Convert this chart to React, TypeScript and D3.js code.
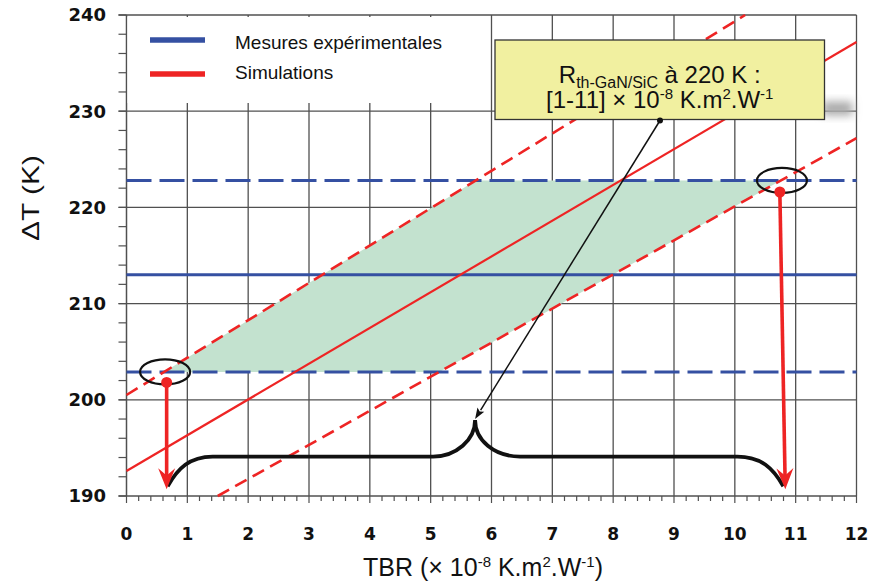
import React from "react";
import * as d3 from "d3";

// ---- data ----
const xTicks = [0, 1, 2, 3, 4, 5, 6, 7, 8, 9, 10, 11, 12];
const yTicks = [190, 200, 210, 220, 230, 240];
const xMinorStep = 0.2;
const yMinorStep = 2;

const measuredMean = 213;
const measuredLow = 202.9;
const measuredHigh = 222.8;

// simulation lines: [TBR, ΔT] end points
const simCentral: [number, number][] = [[0, 192.6], [12, 237.2]];
const simUpper: [number, number][] = [[0, 200.5], [10.17, 240]];
const simLower: [number, number][] = [[1.5, 190], [12, 227.2]];

// annotation values (TBR range read on the chart)
const rangeDotsX = [0.66, 10.74];
const rangeDotsY = [201.8, 221.6];
const arrowTipsX = [0.66, 10.83];
const arrowTipY = 190.7;
const braceY = 194.1;
const braceCuspX = 5.73;
const braceCuspY = 197.9;

const legendItems = [
  { label: "Mesures expérimentales", color: "#3550a2" },
  { label: "Simulations", color: "#ee2424" },
];

const BLUE = "#3550a2";
const RED = "#ee2424";
const GRID = "#505050";

const W = 872, H = 585;
const x = d3.scaleLinear().domain([0, 12]).range([126.5, 856.5]);
const y = d3.scaleLinear().domain([190, 240]).range([496, 15]);

function lineAt(pts: [number, number][]) {
  const [[x0, y0], [x1, y1]] = pts;
  const m = (y1 - y0) / (x1 - x0);
  return { m, b: y0 - m * x0 };
}
function xFor(pts: [number, number][], v: number) {
  const { m, b } = lineAt(pts);
  return (v - b) / m;
}

function arrowHead(sx: number, sy: number, tx: number, ty: number, L: number, Wd: number, notch = 0.65) {
  const dx = tx - sx, dy = ty - sy;
  const len = Math.hypot(dx, dy);
  const ux = dx / len, uy = dy / len;
  const px = -uy, py = ux;
  const bx = tx - ux * L, by = ty - uy * L;
  const nx = tx - ux * L * notch, ny = ty - uy * L * notch;
  return `M${tx},${ty} L${bx + px * Wd / 2},${by + py * Wd / 2} L${nx},${ny} L${bx - px * Wd / 2},${by - py * Wd / 2} Z`;
}

export default function App() {
  const line = d3.line<[number, number]>().x(d => x(d[0])).y(d => y(d[1]));
  const xMinor = d3.range(0, 12 + 1e-9, xMinorStep);
  const yMinor = d3.range(190, 240 + 1e-9, yMinorStep);

  // green zone between measured limits and simulation envelope
  const zone: [number, number][] = [
    [xFor(simUpper, measuredLow), measuredLow],
    [xFor(simUpper, measuredHigh), measuredHigh],
    [xFor(simLower, measuredHigh), measuredHigh],
    [xFor(simLower, measuredLow), measuredLow],
  ];
  const ellL = [xFor(simUpper, measuredLow), measuredLow];
  const ellR = [xFor(simLower, measuredHigh), measuredHigh];

  const by = y(braceY);
  const lx = x(arrowTipsX[0]) + 1, rx = x(arrowTipsX[1]) - 2;
  const tipY = y(arrowTipY) - 3;
  const cx = x(braceCuspX), cy = y(braceCuspY);
  const brace = `M${lx},${tipY} C${lx + 10},${by + 12} ${lx + 22},${by} ${lx + 45},${by}
    L${cx - 42},${by} C${cx - 19},${by} ${cx},${cy + 20} ${cx},${cy}
    C${cx},${cy + 20} ${cx + 19},${by} ${cx + 45},${by}
    L${rx - 46},${by} C${rx - 22},${by} ${rx - 10},${by + 12} ${rx},${tipY}`;

  const box = { x0: 495, y0: 40, x1: 824.5, y1: 119.5 };
  const ptrStart = [660, 120.5];
  const ptrEnd = [cx, cy - 1];

  const tickFont = "DejaVu Sans";
  const textFont = "Liberation Sans, Arial, sans-serif";

  return (
    <svg width={W} height={H} style={{ position: "absolute", left: 0, top: 0 }}>
      <defs>
        <filter id="blur" x="-50%" y="-50%" width="200%" height="200%">
          <feGaussianBlur stdDeviation="4" />
        </filter>
      </defs>
      <rect width={W} height={H} fill="#fff" />
      {/* grid */}
      {xTicks.slice(1).map(t => (
        <line key={"gx" + t} x1={x(t)} x2={x(t)} y1={y(240)} y2={y(190)} stroke={GRID} strokeWidth={1.3} />
      ))}
      {yTicks.map(t => (
        <line key={"gy" + t} x1={x(0) - 8} x2={x(12)} y1={y(t)} y2={y(t)} stroke={GRID} strokeWidth={1.3} />
      ))}
      <line x1={x(0)} x2={x(0)} y1={y(240)} y2={y(190)} stroke={GRID} strokeWidth={1.5} />
      {yMinor.map(t => (
        <line key={"ym" + t} x1={x(0) - 8} x2={x(0)} y1={y(t)} y2={y(t)} stroke={GRID} strokeWidth={1.2} />
      ))}
      {xMinor.map((t, i) => (
        <line key={"xm" + i} x1={x(t)} x2={x(t)} y1={y(190)} y2={y(190) + (i % 5 === 0 ? 7 : 5)} stroke={GRID} strokeWidth={1.2} />
      ))}
      {yTicks.map(t => (
        <text key={"yl" + t} x={106} y={y(t)} dy="0.36em" textAnchor="end" fontFamily={tickFont} fontWeight="bold" fontSize={18} fill="#111">{t}</text>
      ))}
      {xTicks.map(t => (
        <text key={"xl" + t} x={x(t)} y={534} dy="0.36em" textAnchor="middle" fontFamily={tickFont} fontWeight="bold" fontSize={17} fill="#111">{t}</text>
      ))}

      {/* legend */}
      <rect x={127.5} y={17} width={362} height={86} fill="#fff" />
      {legendItems.map((d, i) => (
        <g key={d.label}>
          <line x1={150} x2={205} y1={40 + i * 34} y2={40 + i * 34} stroke={d.color} strokeWidth={5.5} />
          <text x={235} y={49 + i * 30} fontFamily={textFont} fontSize={19} fill="#111">{d.label}</text>
        </g>
      ))}

      {/* green zone */}
      <path d={(line(zone) ?? "") + "Z"} fill="#c3e2cf" />

      {/* measurements */}
      <line x1={x(0)} x2={x(12)} y1={y(measuredMean)} y2={y(measuredMean)} stroke={BLUE} strokeWidth={3} />
      {[measuredLow, measuredHigh].map(v => (
        <line key={"mb" + v} x1={x(0)} x2={x(12)} y1={y(v)} y2={y(v)} stroke={BLUE} strokeWidth={3} strokeDasharray="25,8" />
      ))}

      {/* simulations */}
      <path d={line(simCentral) ?? ""} stroke={RED} strokeWidth={2.2} fill="none" />
      <path d={line(simUpper) ?? ""} stroke={RED} strokeWidth={2.6} fill="none" strokeDasharray="13,7" />
      <path d={line(simLower) ?? ""} stroke={RED} strokeWidth={2.6} fill="none" strokeDasharray="13,7" />

      {/* ellipses */}
      {[ellL, ellR].map((e, i) => (
        <ellipse key={"el" + i} cx={x(e[0]) + 1} cy={y(e[1])} rx={25} ry={12.5} fill="none" stroke="#111" strokeWidth={2.2} />
      ))}

      {/* brace */}
      <path d={brace} fill="none" stroke="#111" strokeWidth={3.8} />

      {/* red arrows */}
      {rangeDotsX.map((d, i) => {
        const sx = x(d), sy = y(rangeDotsY[i]);
        const tx = x(arrowTipsX[i]), ty = y(arrowTipY);
        return (
          <g key={"ra" + i}>
            <line x1={sx} y1={sy} x2={tx - (tx - sx) * 0.05} y2={ty - 12} stroke={RED} strokeWidth={3.6} />
            <path d={arrowHead(sx, sy, tx, ty, 21, 17)} fill={RED} />
            <circle cx={sx} cy={sy} r={5.5} fill={RED} />
          </g>
        );
      })}

      {/* annotation box */}
      <rect x={box.x1 - 2} y={box.y1 - 18} width={30} height={14} fill="#aaa" filter="url(#blur)" />
      <rect x={box.x0} y={box.y0} width={box.x1 - box.x0} height={box.y1 - box.y0} fill="#f1f0a0" stroke="#333" strokeWidth={1.3} />
      <text x={(box.x0 + box.x1) / 2} y={83} textAnchor="middle" fontFamily={textFont} fontSize={24} fill="#111">
        <tspan>R</tspan>
        <tspan dy={5} fontSize={16}>th-GaN/SiC</tspan>
        <tspan dy={-5}> à 220 K :</tspan>
      </text>
      <text x={(box.x0 + box.x1) / 2} y={107.5} textAnchor="middle" fontFamily={textFont} fontSize={24} fill="#111">
        <tspan>[1-11] × 10</tspan>
        <tspan dy={-9} fontSize={15}>-8</tspan>
        <tspan dy={9}> K.m</tspan>
        <tspan dy={-9} fontSize={15}>2</tspan>
        <tspan dy={9}>.W</tspan>
        <tspan dy={-9} fontSize={15}>-1</tspan>
      </text>

      {/* pointer arrow */}
      <line x1={ptrStart[0]} y1={ptrStart[1]} x2={ptrEnd[0] + (ptrStart[0] - ptrEnd[0]) * 0.03} y2={ptrEnd[1] + (ptrStart[1] - ptrEnd[1]) * 0.03} stroke="#111" strokeWidth={1.5} />
      <path d={arrowHead(ptrStart[0], ptrStart[1], ptrEnd[0], ptrEnd[1], 11, 8, 0.8)} fill="#111" />
      <circle cx={ptrStart[0]} cy={ptrStart[1]} r={3} fill="#111" />

      {/* axis titles */}
      <text x={483} y={575.5} textAnchor="middle" fontFamily={textFont} fontSize={25} fill="#111">
        <tspan>TBR (× 10</tspan>
        <tspan dy={-9} fontSize={15}>-8</tspan>
        <tspan dy={9}> K.m</tspan>
        <tspan dy={-9} fontSize={15}>2</tspan>
        <tspan dy={9}>.W</tspan>
        <tspan dy={-9} fontSize={15}>-1</tspan>
        <tspan dy={9}>)</tspan>
      </text>
      <text transform="translate(39,198) rotate(-90) scale(1.3,1)" textAnchor="middle" fontFamily={textFont} fontSize={23} fill="#111">ΔT (K)</text>
    </svg>
  );
}
